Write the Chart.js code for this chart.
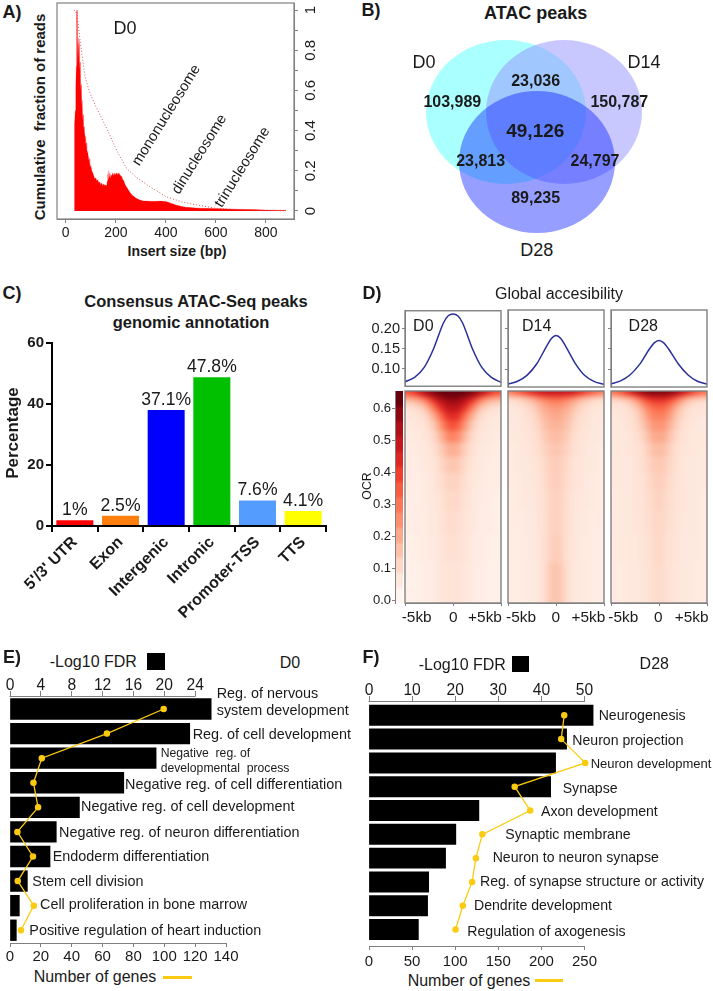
<!DOCTYPE html>
<html>
<head>
<meta charset="utf-8">
<script src="https://cdn.jsdelivr.net/npm/chart.js@4/dist/chart.umd.min.js"></script>
<style>
  html, body { margin: 0; background: #fff; }
  #page { position: relative; width: 713px; height: 991px; overflow: hidden; background: #fff; }
  #page canvas { position: absolute; display: block; }
  .lbl { position: absolute; white-space: pre; line-height: 1; color: #1a1a1a; font-family: "Liberation Sans", Arial, sans-serif; }
  .blur { position: absolute; overflow: hidden; }
  .mark { position: absolute; }
</style>
</head>
<body>
<div id="page"></div>
<script>
/* A - insert size histogram */
const histSizes = [33,34,36,38,40,42,43,44,45,46,
  47,48,49,50,51,52,53,54,55,56,
  57,58,59,60,61,62,63,64,65,66,
  67,68,69,70,71,72,73,74,75,76,
  78,80,82,84,86,88,90,92,94,96,
  98,100,104,108,112,116,120,124,128,132,
  136,140,144,148,152,156,160,164,166,168,
  170,172,174,176,178,180,184,188,192,196,
  200,204,208,212,216,220,224,228,232,236,
  240,245,250,255,260,265,270,275,280,290,
  300,310,320,340,360,380,400,410,420,430,
  440,450,460,470,480,490,500,520,540,560,
  600,650,700,750,800,850,880];
const histFraction = [0,.42,.43,.5,.62,.72,.98,1,.99,1,
  .78,.72,.84,.86,.8,.76,.83,.85,.74,.7,
  .74,.73,.64,.6,.63,.62,.55,.56,.52,.55,
  .48,.45,.48,.46,.4,.41,.42,.38,.36,.39,
  .37,.33,.34,.31,.29,.3,.27,.25,.26,.23,
  .22,.23,.2,.19,.175,.16,.165,.15,.155,.14,
  .145,.13,.14,.125,.135,.125,.13,.125,.15,.185,
  .16,.2,.17,.19,.165,.18,.175,.19,.175,.19,
  .18,.19,.18,.19,.18,.175,.17,.155,.15,.135,
  .125,.115,.105,.095,.087,.08,.075,.07,.065,.058,
  .053,.05,.05,.048,.048,.049,.047,.043,.039,.035,
  .03,.027,.024,.021,.019,.018,.017,.015,.014,.013,
  .012,.01,.008,.007,.005,.004,.003];
const cumSizes = [33,45,57,77,97,124,164,204,244,284,337,403,470,537,603,670,803,880];
const cumFraction = [1,.98,.85,.668,.585,.51,.41,.3,.21,.166,.12,.07,.043,.027,.013,.008,.002,0];
const insertTicks = [0,200,400,600,800];
const fractionTicks = [0,.1,.2,.3,.4,.5,.6,.7,.8,.9,1];

/* B - venn */
const vennSets = ['D0','D14','D28'];
const vennCenterX = [506,564,537];
const vennCenterY = [112,112,162];
const vennRadiusX = [80,78,78];
const vennRadiusY = [72,72,71];
const vennColors = ['rgb(170,255,255)','rgba(151,151,255,.53)','rgba(0,23,255,.41)'];

/* C - genomic annotation */
const annotCats = ["5'/3' UTR",'Exon','Intergenic','Intronic','Promoter-TSS','TTS'];
const annotBars = [1.9,3.4,38,48.8,8.4,4.9];
const annotText = ['1%','2.5%','37.1%','47.8%','7.6%','4.1%'];
const annotColors = ['#ff0000','#ff7f0e','#0000ff','#00c000','#559cff','#ffff00'];
const annotTicks = [0,20,40,60];

/* D - accessibility profiles */
const profileKb = [-5,-4,-3,-2,-1,-.5,0,.5,1,2,3,4,5];
const profileD0 = [.0675,.078,.103,.151,.214,.232,.2366,.232,.214,.151,.103,.078,.066];
const profileD14 = [.0634,.07,.085,.113,.155,.174,.182,.175,.156,.114,.084,.069,.0625];
const profileD28 = [.064,.071,.086,.112,.149,.164,.17,.164,.149,.113,.086,.07,.063];
const profileTicks = [.1,.15,.2];
const ocrTicks = [0,.1,.2,.3,.4,.5,.6];
const kbTicks = [-5,0,5];
const colorbarSteps = [.65,.6,.55,.5,.45,.4,.35,.3,.25,.2,.15,.1,.05,0];

/* heatmap rows, top to bottom; each row runs from the centre column out to the edge */
const heatRowHeights = [3,3,4,5,6,8,10,12,14,16,18,20,24,28,41];
const heatD0 = [
  [.65,.65,.65,.63,.6,.55,.48,.42,.38],
  [.64,.64,.62,.58,.52,.44,.36,.3,.28],
  [.6,.59,.55,.49,.4,.3,.24,.2,.18],
  [.56,.54,.49,.4,.3,.2,.15,.12,.11],
  [.5,.49,.42,.32,.21,.13,.1,.08,.07],
  [.44,.42,.33,.22,.14,.09,.07,.06,.05],
  [.37,.34,.25,.16,.1,.07,.06,.05,.045],
  [.28,.25,.18,.115,.08,.06,.05,.045,.04],
  [.19,.175,.125,.09,.065,.05,.045,.04,.035],
  [.14,.13,.1,.075,.055,.045,.04,.035,.03],
  [.11,.105,.085,.065,.05,.04,.035,.03,.03],
  [.1,.095,.075,.06,.045,.04,.035,.03,.025],
  [.09,.085,.07,.055,.045,.035,.03,.03,.025],
  [.08,.075,.065,.05,.04,.035,.03,.025,.02],
  [.07,.065,.055,.045,.035,.03,.025,.02,.02]];
const heatD14 = [
  [.5,.5,.5,.48,.46,.42,.38,.34,.3],
  [.42,.42,.4,.37,.32,.27,.23,.2,.18],
  [.31,.3,.28,.24,.19,.15,.12,.1,.09],
  [.26,.25,.22,.18,.14,.11,.09,.075,.065],
  [.22,.21,.19,.15,.11,.09,.075,.06,.055],
  [.2,.19,.165,.125,.095,.08,.065,.055,.05],
  [.18,.17,.145,.11,.085,.07,.06,.05,.045],
  [.16,.15,.125,.095,.075,.065,.055,.05,.045],
  [.14,.13,.11,.085,.07,.06,.05,.045,.04],
  [.125,.115,.095,.075,.06,.055,.05,.045,.04],
  [.12,.11,.09,.07,.06,.05,.045,.04,.04],
  [.115,.105,.085,.065,.055,.05,.045,.04,.035],
  [.115,.105,.08,.065,.05,.045,.04,.04,.035],
  [.125,.11,.08,.06,.05,.04,.04,.035,.035],
  [.145,.125,.085,.055,.045,.04,.035,.035,.03]];
const heatD28 = [
  [.62,.62,.61,.58,.53,.47,.41,.36,.32],
  [.54,.54,.51,.46,.39,.31,.26,.22,.2],
  [.44,.44,.4,.33,.25,.18,.14,.12,.11],
  [.37,.36,.32,.25,.17,.12,.09,.08,.07],
  [.32,.31,.26,.18,.125,.09,.075,.065,.06],
  [.28,.27,.22,.15,.105,.08,.065,.06,.055],
  [.24,.23,.18,.125,.09,.07,.06,.055,.05],
  [.2,.19,.145,.1,.08,.065,.055,.05,.05],
  [.16,.15,.115,.085,.07,.06,.055,.05,.045],
  [.135,.125,.1,.08,.065,.055,.05,.045,.045],
  [.12,.11,.09,.075,.065,.055,.05,.045,.045],
  [.11,.1,.085,.07,.06,.055,.05,.045,.04],
  [.1,.095,.08,.07,.06,.05,.05,.045,.04],
  [.1,.09,.075,.065,.055,.05,.045,.045,.04],
  [.095,.085,.07,.06,.05,.05,.045,.04,.04]];

/* E - D0 enrichment */
const d0Fdr = [26.08,23.3,18.94,14.75,9,6,5.19,2.25,1.21,.82];
const d0Genes = [99.6,62.8,20.6,15.2,18.2,4.8,14.9,5,15.4,7.1];
const d0FdrTicks = [0,4,8,12,16,20,24];
const d0GeneTicks = [0,20,40,60,80,100,120,140];

/* F - D28 enrichment */
const d28Terms = ['Neurogenesis','Neuron projection','Neuron development','Synapse','Axon development','Synaptic membrane',
  'Neuron to neuron synapse','Reg. of synapse structure or activity','Dendrite development','Regulation of axogenesis'];
const d28Fdr = [52,45.85,43.3,42.15,25.5,20.15,17.77,13.85,13.6,11.46];
const d28Genes = [226.5,223,250.8,169,187,131.5,124,119.6,108.8,100.4];
const d28FdrTicks = [0,10,20,30,40,50];
const d28GeneTicks = [0,50,100,150,200,250];

const FONT = '"Liberation Sans", Arial, sans-serif';
const AXIS = '#808080';
const INK = '#1a1a1a';
const GOLD = '#fbcb12';
Chart.defaults.font.family = FONT;
Chart.defaults.color = INK;
Chart.defaults.animation = false;
Chart.defaults.responsive = false;
Chart.defaults.devicePixelRatio = 1;
Chart.defaults.plugins.legend.display = false;
Chart.defaults.plugins.tooltip.enabled = false;

const page = document.getElementById('page');

// plot = [left, top, right, bottom] on the page, pad = room left round it for the axes
function mount(plot, pad) {
  const c = document.createElement('canvas');
  c.width = plot[2] - plot[0] + pad.l + pad.r;
  c.height = plot[3] - plot[1] + pad.t + pad.b;
  c.style.left = (plot[0] - pad.l) + 'px';
  c.style.top = (plot[1] - pad.t) + 'px';
  page.appendChild(c);
  return c;
}

function axis(size, vals, o) {
  o = o || {};
  const s = {
    display: true,
    offset: false,
    afterFit: sc => { if (sc.isHorizontal()) sc.height = size; else sc.width = size; },
    ticks: {
      autoSkip: false, maxRotation: 0, padding: o.padding === undefined ? 2 : o.padding,
      display: o.labels !== false,
      font: { size: o.size || 15, weight: o.weight || 'normal' },
      color: INK,
      callback: o.fmt || (v => String(v))
    },
    grid: { display: true, drawOnChartArea: false, drawTicks: true, tickLength: o.tick || 4, color: o.color || AXIS, lineWidth: o.lw || 1 },
    border: { display: o.border !== false, color: o.color || AXIS, width: o.lw || 1 }
  };
  if (vals) s.afterBuildTicks = sc => { sc.ticks = vals.map(value => ({ value })); };
  return s;
}

const frame = (color, width) => ({
  id: 'frame',
  afterDatasetsDraw(chart) {
    const { ctx, chartArea: a } = chart;
    ctx.save();
    ctx.strokeStyle = color;
    ctx.lineWidth = width;
    ctx.strokeRect(a.left, a.top, a.right - a.left, a.bottom - a.top);
    ctx.restore();
  }
});

function label(str, x, y, o) {
  o = o || {};
  const el = document.createElement('span');
  el.className = 'lbl';
  el.textContent = str;
  el.style.left = x + 'px';
  el.style.top = y + 'px';
  el.style.fontSize = (o.size || 14.4) + 'px';
  if (o.bold) el.style.fontWeight = 'bold';
  const tx = o.left ? '0' : '-50%';
  el.style.transform = 'translate(' + tx + ',-50%)' + (o.rot ? ' rotate(' + o.rot + 'deg)' : '');
  page.appendChild(el);
}

function mark(x, y, w, h, color) {
  const el = document.createElement('div');
  el.className = 'mark';
  el.style.cssText += 'left:' + x + 'px;top:' + y + 'px;width:' + w + 'px;height:' + h + 'px;background:' + color;
  page.appendChild(el);
}

/* ---- A ---- */
const fractionAxis = axis(30, fractionTicks, { size: 15, tick: 4, padding: 2, fmt: v => (Math.round(v * 10) % 2 ? '' : String(v)) });
fractionAxis.ticks.minRotation = 90;
fractionAxis.ticks.maxRotation = 90;
fractionAxis.ticks.crossAlign = 'center';
new Chart(mount([57, 3, 294, 219], { l: 2, t: 14, r: 30, b: 24 }), {
  type: 'line',
  data: {
    datasets: [
      { data: cumSizes.map((x, i) => ({ x, y: cumFraction[i] })), borderColor: '#d9545c', borderWidth: 1, borderDash: [1, 2], pointRadius: 0, fill: false },
      { data: histSizes.map((x, i) => ({ x, y: histFraction[i] })), borderColor: 'rgba(255,0,0,.35)', borderWidth: .6, backgroundColor: '#ff0000', pointRadius: 0, fill: 'origin' }
    ]
  },
  options: {
    layout: { padding: { left: 2, top: 14 } },
    scales: {
      x: { type: 'linear', min: -35, max: 912, ...axis(24, insertTicks, { size: 14, tick: 4, padding: 2 }) },
      y: { type: 'linear', position: 'right', min: -.04, max: 1.035, ...fractionAxis }
    }
  },
  plugins: [frame(AXIS, 1.2)]
});
label('A)', 12, 12, { size: 18, bold: true });
label('D0', 125, 28, { size: 18 });
label('Cumulative  fraction of reads', 39, 117, { size: 15, bold: true, rot: -90 });
label('Insert size (bp)', 177, 251, { size: 14, bold: true });
label('mononucleosome', 166, 115, { size: 14.7, rot: -58 });
label('dinucleosome', 199, 154, { size: 14.7, rot: -58 });
label('trinucleosome', 242, 167, { size: 14.7, rot: -58 });

/* ---- B ---- */
new Chart(mount([420, 30, 650, 240], { l: 0, t: 0, r: 0, b: 0 }), {
  type: 'scatter',
  data: {
    datasets: vennSets.map((name, i) => ({
      label: name,
      data: [{ x: vennCenterX[i], y: vennCenterY[i] }],
      pointRadius: 0
    }))
  },
  options: {
    scales: {
      x: { type: 'linear', display: false, min: 420, max: 650 },
      y: { type: 'linear', display: false, min: 30, max: 240, reverse: true }
    }
  },
  plugins: [{
    id: 'vennEllipses',
    afterDatasetsDraw(chart) {
      const { ctx } = chart;
      ctx.save();
      vennSets.forEach((_, i) => {
        const p = chart.getDatasetMeta(i).data[0];
        ctx.fillStyle = vennColors[i];
        ctx.beginPath();
        ctx.ellipse(p.x, p.y, vennRadiusX[i], vennRadiusY[i], 0, 0, Math.PI * 2);
        ctx.fill();
      });
      ctx.restore();
    }
  }]
});
label('B)', 371, 10, { size: 18, bold: true });
label('ATAC peaks', 535.7, 13, { size: 18, bold: true });
label('D0', 424, 62, { size: 18 });
label('D14', 644, 62, { size: 18 });
label('D28', 536.7, 250, { size: 18 });
label('103,989', 452.3, 101.7, { size: 16, bold: true });
label('23,036', 535.7, 81.3, { size: 16, bold: true });
label('150,787', 619.3, 101.7, { size: 16, bold: true });
label('49,126', 535.3, 130, { size: 19, bold: true });
label('23,813', 480.7, 161, { size: 16, bold: true });
label('24,797', 595, 161, { size: 16, bold: true });
label('89,235', 535.7, 198.3, { size: 16, bold: true });

/* ---- C ---- */
const annotX = axis(110, null, { size: 16, weight: 'bold', color: '#000', lw: 2, tick: 6, padding: 1 });
annotX.offset = true;
annotX.ticks.minRotation = 45;
annotX.ticks.maxRotation = 45;
delete annotX.ticks.callback;
new Chart(mount([52, 342, 326, 526], { l: 52, t: 10, r: 30, b: 110 }), {
  type: 'bar',
  data: {
    labels: annotCats,
    datasets: [{ data: annotBars, backgroundColor: annotColors, barPercentage: .81, categoryPercentage: 1 }]
  },
  options: {
    layout: { padding: { top: 10, right: 30 } },
    scales: {
      x: annotX,
      y: { min: 0, max: 60, ...axis(52, annotTicks, { size: 15, weight: 'bold', color: '#000', lw: 2, tick: 6, padding: 2 }) }
    }
  },
  plugins: [{
    id: 'pctLabels',
    afterDatasetsDraw(chart) {
      const { ctx } = chart;
      ctx.save();
      ctx.font = '17.6px ' + FONT;
      ctx.fillStyle = INK;
      ctx.textAlign = 'center';
      ctx.textBaseline = 'bottom';
      chart.getDatasetMeta(0).data.forEach((bar, i) => ctx.fillText(annotText[i], bar.x, bar.y - 1));
      ctx.restore();
    }
  }]
});
label('C)', 12, 293, { size: 18, bold: true });
label('Consensus ATAC-Seq peaks', 196, 300.7, { size: 16.5, bold: true });
label('genomic annotation', 191, 321.7, { size: 16.5, bold: true });
label('Percentage', 12.3, 433, { size: 17, bold: true, rot: -90 });

/* ---- D ---- */
const reds = [[255,245,240],[254,224,210],[252,187,161],[252,146,114],[251,106,74],[239,59,44],[203,24,29],[165,15,21],[103,0,13]];
function redFor(v) {
  const p = Math.max(0, Math.min(1, v / .65)) * (reds.length - 1);
  const i = Math.min(reds.length - 2, Math.floor(p));
  const f = p - i;
  const c = reds[i].map((a, k) => Math.round(a + (reds[i + 1][k] - a) * f));
  return 'rgb(' + c.join(',') + ')';
}

// stacked bars, one dataset per row; edge rows and columns are repeated past the clip so the blur stays even
function heat(plot, rows, heights, blur) {
  const wrap = document.createElement('div');
  wrap.className = 'blur';
  wrap.style.cssText += 'left:' + plot[0] + 'px;top:' + plot[1] + 'px;width:' + (plot[2] - plot[0]) + 'px;height:' + (plot[3] - plot[1]) + 'px';
  page.appendChild(wrap);
  const cols = rows[0].length;
  const mx = Math.round((plot[2] - plot[0]) / cols * 2);
  const my = 8;
  const total = plot[3] - plot[1] + my * 2;
  const sum = heights.reduce((a, b) => a + b, 0);
  const scale = (plot[3] - plot[1]) / sum;
  const padded = [rows[0], ...rows, rows[rows.length - 1]];
  const hs = [my, ...heights.map(h => h * scale), my];
  const c = document.createElement('canvas');
  c.width = plot[2] - plot[0] + mx * 2;
  c.height = total;
  c.style.left = -mx + 'px';
  c.style.top = -my + 'px';
  c.style.filter = 'blur(' + blur + 'px)';
  wrap.appendChild(c);
  const xs = Array.from({ length: cols + 4 }, (_, i) => i);
  new Chart(c, {
    type: 'bar',
    data: {
      labels: xs,
      datasets: padded.map((row, r) => {
        const full = [row[0], row[0], ...row, row[cols - 1], row[cols - 1]];
        return { data: xs.map(() => hs[r]), backgroundColor: full.map(redFor), barPercentage: 1, categoryPercentage: 1, borderWidth: 0 };
      })
    },
    options: {
      scales: {
        x: { stacked: true, display: false },
        y: { stacked: true, display: false, reverse: true, min: 0, max: total }
      }
    }
  });
}
const mirror = half => [...half.slice(1).reverse(), ...half];

const panelsX = [[405, 501], [508, 604], [611, 707]];
const panelNames = ['D0', 'D14', 'D28'];
const panelProfiles = [profileD0, profileD14, profileD28];
const panelHeat = [heatD0, heatD14, heatD28];
const kbLabelX = [[416.7, 453.3, 485], [521, 555.7, 588.3], [623.3, 658.3, 691.7]];
const panelNameX = [423.3, 536.7, 643.3];

panelsX.forEach((px, k) => {
  new Chart(mount([px[0], 310, px[1], 387], { l: k ? 6 : 45, t: 10, r: 2, b: 10 }), {
    type: 'line',
    data: { datasets: [{ data: profileKb.map((x, i) => ({ x, y: panelProfiles[k][i] })), borderColor: '#2a2f9a', borderWidth: 1.5, pointRadius: 0, cubicInterpolationMode: 'monotone' }] },
    options: {
      layout: { padding: { top: 10, right: 2, bottom: 10 } },
      scales: {
        x: { type: 'linear', display: false, min: -5, max: 5 },
        y: { type: 'linear', min: .056, max: .2446, ...axis(k ? 6 : 45, profileTicks, { size: 14.6, tick: 3, labels: !k, fmt: v => v.toFixed(2) }) }
      }
    },
    plugins: [frame(AXIS, 1.4)]
  });
  heat([px[0], 391, px[1], 603], panelHeat[k].map(mirror), heatRowHeights, 2.4);
  new Chart(mount([px[0], 391, px[1], 603], { l: 2, t: 2, r: 2, b: 6 }), {
    type: 'line',
    data: { datasets: [] },
    options: {
      layout: { padding: { left: 2, top: 2, right: 2 } },
      scales: {
        x: { type: 'linear', min: -5, max: 5, ...axis(6, kbTicks, { tick: 3, labels: false }) },
        y: { type: 'linear', display: false, min: 0, max: 1 }
      }
    },
    plugins: [frame(AXIS, 1.4)]
  });
  label(panelNames[k], panelNameX[k], 326, { size: 16 });
  ['-5kb', '0', '+5kb'].forEach((t, j) => label(t, kbLabelX[k][j], 617.3, { size: 15.4 }));
});

heat([395, 391, 403, 603], colorbarSteps.map(v => [v]), colorbarSteps.map(() => 1), 1.5);
new Chart(mount([395, 391, 403, 603], { l: 30, t: 10, r: 0, b: 10 }), {
  type: 'line',
  data: { datasets: [] },
  options: {
    layout: { padding: { top: 10, bottom: 10 } },
    scales: {
      x: { type: 'linear', display: false, min: 0, max: 1 },
      y: { type: 'linear', min: -.008, max: .655, ...axis(30, ocrTicks, { size: 13, tick: 3, padding: 1, fmt: v => v.toFixed(1) }) }
    }
  }
});
label('D)', 372, 293, { size: 18, bold: true });
label('Global accesibility', 559, 294, { size: 16 });
label('OCR', 367.3, 485.7, { size: 12.3, rot: -90 });

/* ---- E / F ---- */
// top axis line stops at its last tick, the bars may run on past it
const topLine = {
  id: 'topLine',
  afterDraw(chart) {
    const s = chart.scales.x2;
    const vals = s.ticks.map(t => t.value);
    const { ctx } = chart;
    ctx.save();
    ctx.strokeStyle = AXIS;
    ctx.lineWidth = 1;
    ctx.beginPath();
    ctx.moveTo(s.getPixelForValue(vals[0]) - .5, s.bottom + .5);
    ctx.lineTo(s.getPixelForValue(vals[vals.length - 1]) + .5, s.bottom + .5);
    ctx.stroke();
    ctx.restore();
  }
};

function enrich(plot, pad, fdr, genes, fdrMax, geneMax, fdrTicks, geneTicks, yMin, yMax, thick, base, botPad) {
  const ys = fdr.map((_, i) => i);
  new Chart(mount(plot, pad), {
    type: 'bar',
    data: {
      datasets: [
        { type: 'line', data: genes.map((x, i) => ({ x, y: ys[i] })), xAxisID: 'x', yAxisID: 'y', borderColor: GOLD, borderWidth: 1.3, pointRadius: 2.6, pointBackgroundColor: GOLD, pointBorderColor: GOLD, tension: 0, clip: false, order: 1 },
        { type: 'bar', data: fdr.map((x, i) => ({ x, y: ys[i] })), xAxisID: 'x2', yAxisID: 'y', backgroundColor: '#000', barThickness: thick, base, clip: false, order: 2 }
      ]
    },
    options: {
      indexAxis: 'y',
      layout: { padding: { left: pad.l, right: pad.r } },
      scales: {
        x: { type: 'linear', position: 'bottom', min: 0, max: geneMax, ...axis(pad.b, geneTicks, { size: 15, tick: 4, padding: botPad }) },
        x2: { type: 'linear', axis: 'x', position: 'top', min: 0, max: fdrMax, ...axis(pad.t, fdrTicks, { size: 15.6, tick: 5, padding: -4, border: false }) },
        y: { type: 'linear', display: false, min: yMin, max: yMax, reverse: true, offset: false }
      }
    },
    plugins: [topLine]
  });
}

enrich([10, 696, 226, 943], { l: 10, t: 24, r: 14, b: 24 }, d0Fdr, d0Genes, 28, 140, d0FdrTicks, d0GeneTicks, -.53, 9.52, 20.7, 0, 1);
label('E)', 12, 657, { size: 18, bold: true });
label('-Log10 FDR', 93.3, 661.7, { size: 16 });
mark(147, 653, 18, 17, '#000');
label('D0', 290, 662.7, { size: 16 });
label('Reg. of nervous', 216.7, 693.3, { left: true });
label('system development', 216.7, 710, { left: true });
label('Reg. of cell development', 192.7, 734.3, { left: true });
label('Negative  reg. of', 160.7, 752.7, { left: true, size: 12.2 });
label('developmental  process', 160.7, 768, { left: true, size: 12.2 });
label('Negative reg. of cell differentiation', 125, 784, { left: true });
label('Negative reg. of cell development', 81, 806, { left: true });
label('Negative reg. of neuron differentiation', 59, 831.7, { left: true });
label('Endoderm differentiation', 52.7, 855.7, { left: true });
label('Stem cell division', 32.3, 880.7, { left: true });
label('Cell proliferation in bone marrow', 40, 904.3, { left: true });
label('Positive regulation of heart induction', 29.3, 930.3, { left: true });
label('Number of genes', 95, 976.7, { size: 16 });
mark(163, 975.5, 29, 3, GOLD);

enrich([369, 701, 586, 946], { l: 10, t: 24, r: 14, b: 26 }, d28Fdr, d28Genes, 50, 250, d28FdrTicks, d28GeneTicks, -.6, 9.69, 20.3, .1, 3);
label('F)', 371, 657, { size: 18, bold: true });
label('-Log10 FDR', 462.3, 665, { size: 16 });
mark(512, 656, 17, 16, '#000');
label('D28', 654.3, 664, { size: 16 });
const d28LabelX = [598.7, 572.3, 590.7, 562.7, 541, 505.3, 492.7, 480, 474, 467.3];
const d28LabelY = [714.7, 739.7, 763.3, 787.7, 811.3, 834.3, 857.3, 881.3, 905, 930.7];
d28Terms.forEach((t, i) => label(t, d28LabelX[i], d28LabelY[i], { left: true, size: i === 2 ? 13 : 14.1 }));
label('Number of genes', 469, 980.7, { size: 16 });
mark(535, 978.5, 28, 3, GOLD);
</script>
</body>
</html>
